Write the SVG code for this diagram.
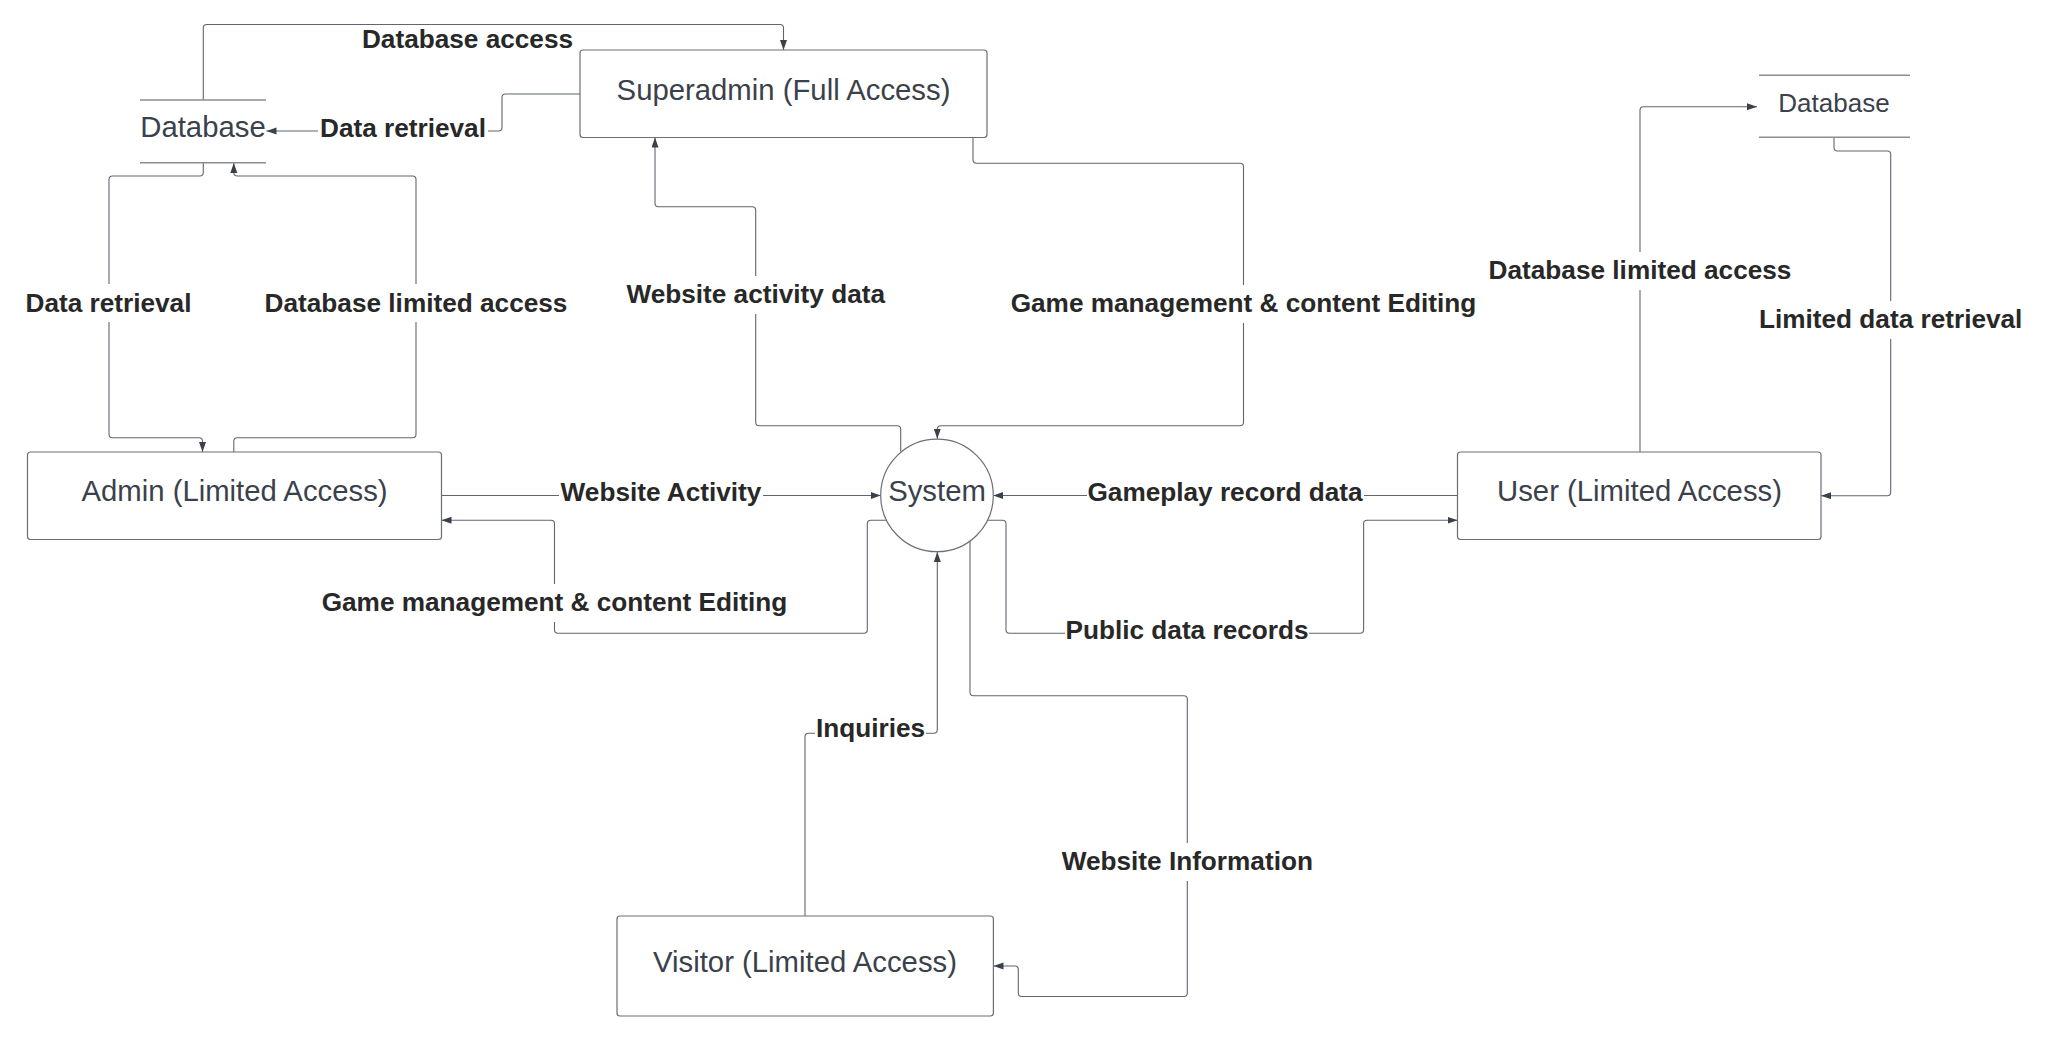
<svg xmlns="http://www.w3.org/2000/svg" width="2048" height="1042" viewBox="0 0 2048 1042">
<style>
.box{fill:#ffffff;stroke:#6a6f76;stroke-width:1.2}
.dbl{stroke:#8a8d92;stroke-width:1.5}
.nt{font-family:"Liberation Sans",Arial,sans-serif;font-size:29.3px;fill:#3a414a;text-anchor:middle}
.lb{font-family:"Liberation Sans",Arial,sans-serif;font-size:26.2px;font-weight:bold;fill:#282828;text-anchor:middle}
.bg{fill:#ffffff}
.cn{fill:none;stroke:#61666d;stroke-width:1.1;stroke-linejoin:round}
</style>
<defs>
<marker id="ah" markerUnits="userSpaceOnUse" markerWidth="11" markerHeight="8" refX="10" refY="3.5" orient="auto">
<path d="M0,0 L10,3.5 L0,7 Z" fill="#3a414a"/>
</marker>
</defs>
<rect width="2048" height="1042" fill="#ffffff"/>
<g id="connectors">
<path class="cn" d="M203.3,100 V28 Q203.3,24.5 206.8,24.5 H780 Q783.5,24.5 783.5,28 V50" marker-end="url(#ah)"/>
<path class="cn" d="M580,94 H505.5 Q502,94 502,97.5 V127.5 Q502,131 498.5,131 H266.5" marker-end="url(#ah)"/>
<path class="cn" d="M203.3,163 V172.5 Q203.3,176 199.8,176 H112.5 Q109,176 109,179.5 V434.2 Q109,437.7 112.5,437.7 H199 Q202.5,437.7 202.5,441.2 V452" marker-end="url(#ah)"/>
<path class="cn" d="M233.8,452 V441.2 Q233.8,437.7 237.3,437.7 H412.5 Q416,437.7 416,434.2 V179.5 Q416,176 412.5,176 H237.3 Q233.8,176 233.8,172.5 V163" marker-end="url(#ah)"/>
<path class="cn" d="M900.7,451.5 V429.2 Q900.7,425.7 897.2,425.7 H759.2 Q755.7,425.7 755.7,422.2 V210.2 Q755.7,206.7 752.2,206.7 H658.5 Q655,206.7 655,203.2 V137.5" marker-end="url(#ah)"/>
<path class="cn" d="M973,137.5 V159.8 Q973,163.3 976.5,163.3 H1240 Q1243.5,163.3 1243.5,166.8 V422.2 Q1243.5,425.7 1240,425.7 H940.8 Q937.3,425.7 937.3,429.2 V438.8" marker-end="url(#ah)"/>
<path class="cn" d="M1640,452 V110.2 Q1640,106.7 1643.5,106.7 H1757" marker-end="url(#ah)"/>
<path class="cn" d="M1834,137.3 V147.5 Q1834,151 1837.5,151 H1887.2 Q1890.7,151 1890.7,154.5 V492.2 Q1890.7,495.7 1887.2,495.7 H1821" marker-end="url(#ah)"/>
<path class="cn" d="M441.5,495.5 H880.7" marker-end="url(#ah)"/>
<path class="cn" d="M1457.5,495.5 H993.3" marker-end="url(#ah)"/>
<path class="cn" d="M886.4,520.3 H870.8 Q867.3,520.3 867.3,523.8 V629.8 Q867.3,633.3 863.8,633.3 H558 Q554.5,633.3 554.5,629.8 V523.8 Q554.5,520.3 551,520.3 H441.5" marker-end="url(#ah)"/>
<path class="cn" d="M987.6,520.3 H1002.5 Q1006,520.3 1006,523.8 V629.8 Q1006,633.3 1009.5,633.3 H1360.1 Q1363.6,633.3 1363.6,629.8 V523.8 Q1363.6,520.3 1367.1,520.3 H1457.5" marker-end="url(#ah)"/>
<path class="cn" d="M970,541 V692.2 Q970,695.7 973.5,695.7 H1183.8 Q1187.3,695.7 1187.3,699.2 V993 Q1187.3,996.5 1183.8,996.5 H1021.8 Q1018.3,996.5 1018.3,993 V969.5 Q1018.3,966 1014.8,966 H993.5" marker-end="url(#ah)"/>
<path class="cn" d="M805,916 V736.8 Q805,733.3 808.5,733.3 H933.8 Q937.3,733.3 937.3,729.8 V552" marker-end="url(#ah)"/>
</g>
<g id="labels">
<text class="lb" x="467.5" y="48">Database access</text>
<rect class="bg" x="318" y="115" width="170" height="30"/>
<text class="lb" x="403" y="137">Data retrieval</text>
<rect class="bg" x="24" y="284" width="170" height="38"/>
<text class="lb" x="108.5" y="312">Data retrieval</text>
<rect class="bg" x="264" y="284" width="304" height="38"/>
<text class="lb" x="416" y="312">Database limited access</text>
<rect class="bg" x="625" y="276" width="261" height="38"/>
<text class="lb" x="755.7" y="303">Website activity data</text>
<rect class="bg" x="1010" y="285" width="467" height="38"/>
<text class="lb" x="1243.5" y="312">Game management &amp; content Editing</text>
<rect class="bg" x="1487" y="252" width="306" height="38"/>
<text class="lb" x="1640" y="279">Database limited access</text>
<rect class="bg" x="1758" y="301" width="265" height="38"/>
<text class="lb" x="1890.7" y="328">Limited data retrieval</text>
<rect class="bg" x="559" y="479" width="204" height="30"/>
<text class="lb" x="661" y="501">Website Activity</text>
<rect class="bg" x="1087" y="479" width="277" height="30"/>
<text class="lb" x="1225" y="501">Gameplay record data</text>
<rect class="bg" x="321" y="584" width="467" height="38"/>
<text class="lb" x="554.5" y="611">Game management &amp; content Editing</text>
<rect class="bg" x="1065" y="617" width="244" height="30"/>
<text class="lb" x="1187" y="639">Public data records</text>
<rect class="bg" x="815" y="715" width="111" height="30"/>
<text class="lb" x="870.5" y="737">Inquiries</text>
<rect class="bg" x="1061" y="843" width="253" height="38"/>
<text class="lb" x="1187.3" y="870">Website Information</text>
</g>
<g id="superadmin">
<rect class="box" x="580" y="50" width="407" height="87.5" rx="3"/>
<text class="nt" x="783.5" y="100">Superadmin (Full Access)</text>
</g>
<g id="database-left">
<line class="dbl" x1="140" y1="100" x2="266" y2="100"/>
<line class="dbl" x1="140" y1="162.7" x2="266" y2="162.7"/>
<text class="nt" x="203" y="137">Database</text>
</g>
<g id="database-right">
<line class="dbl" x1="1759" y1="75.3" x2="1910" y2="75.3"/>
<line class="dbl" x1="1759" y1="137.3" x2="1910" y2="137.3"/>
<text class="nt" style="font-size:26px" x="1834" y="112">Database</text>
</g>
<g id="admin">
<rect class="box" x="27.5" y="452" width="414" height="87.5" rx="3"/>
<text class="nt" x="234.5" y="501">Admin (Limited Access)</text>
</g>
<g id="system">
<circle class="box" cx="937" cy="495.4" r="56.3"/>
<text class="nt" x="937" y="501">System</text>
</g>
<g id="user">
<rect class="box" x="1457.5" y="452" width="363.5" height="87.5" rx="3"/>
<text class="nt" x="1639.5" y="501">User (Limited Access)</text>
</g>
<g id="visitor">
<rect class="box" x="617" y="916" width="376.4" height="100" rx="3"/>
<text class="nt" x="805" y="972">Visitor (Limited Access)</text>
</g>
</svg>
